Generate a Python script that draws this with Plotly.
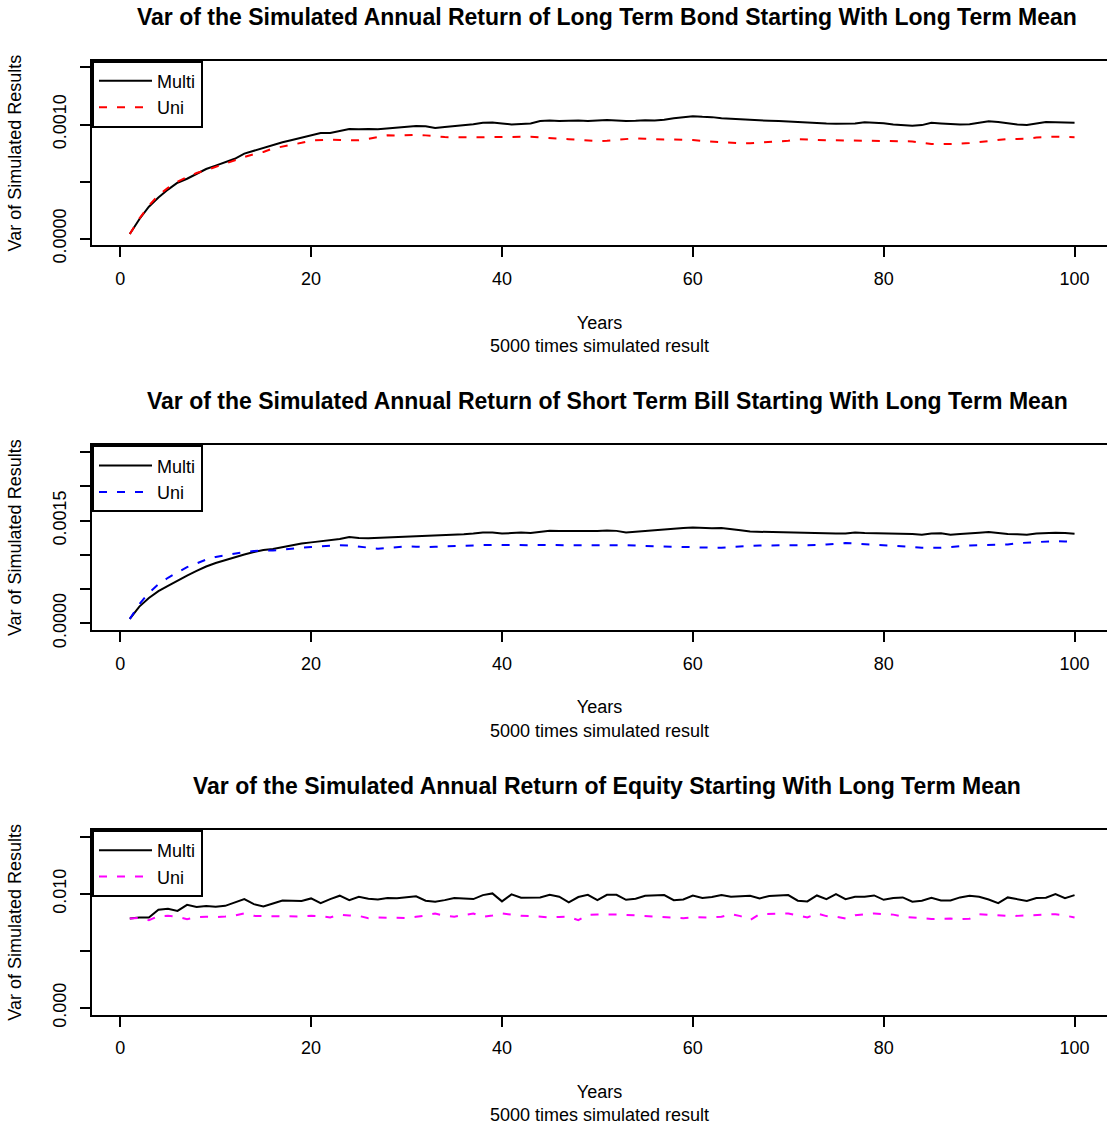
import plotly.graph_objects as go

years = list(range(1, 101))

bond_multi = [
    0.000040, 0.000170, 0.000280, 0.000360, 0.000430, 0.000490, 0.000525, 0.000570, 0.000610, 0.000640,
    0.000670, 0.000700, 0.000745, 0.000770, 0.000795, 0.000825, 0.000845, 0.000865, 0.000885, 0.000910,
    0.000925, 0.000925, 0.000945, 0.000960, 0.000958, 0.000962, 0.000958, 0.000965, 0.000975, 0.000978,
    0.000988, 0.000985, 0.000970, 0.000978, 0.000985, 0.000995, 0.001003, 0.001015, 0.001018, 0.001010,
    0.001000, 0.001005, 0.001010, 0.001030, 0.001035, 0.001030, 0.001035, 0.001035, 0.001030, 0.001033,
    0.001040, 0.001035, 0.001030, 0.001033, 0.001038, 0.001036, 0.001042, 0.001055, 0.001065, 0.001073,
    0.001068, 0.001065, 0.001055, 0.001050, 0.001045, 0.001037, 0.001035, 0.001033, 0.001030, 0.001025,
    0.001020, 0.001017, 0.001015, 0.001010, 0.001008, 0.001008, 0.001010, 0.001020, 0.001018, 0.001012,
    0.001000, 0.000992, 0.000990, 0.000995, 0.001015, 0.001010, 0.001002, 0.001000, 0.001002, 0.001015,
    0.001028, 0.001022, 0.001010, 0.001000, 0.000995, 0.001010, 0.001022, 0.001020, 0.001018, 0.001015,
]
bond_uni = [
    0.000040, 0.000175, 0.000290, 0.000380, 0.000445, 0.000500, 0.000540, 0.000575, 0.000600, 0.000630,
    0.000660, 0.000690, 0.000715, 0.000740, 0.000760, 0.000790, 0.000805, 0.000820, 0.000840, 0.000860,
    0.000865, 0.000868, 0.000865, 0.000862, 0.000862, 0.000875, 0.000890, 0.000905, 0.000903, 0.000906,
    0.000910, 0.000905, 0.000895, 0.000890, 0.000888, 0.000886, 0.000887, 0.000888, 0.000890, 0.000891,
    0.000893, 0.000895, 0.000893, 0.000887, 0.000880, 0.000876, 0.000872, 0.000866, 0.000858, 0.000854,
    0.000858, 0.000864, 0.000872, 0.000880, 0.000875, 0.000870, 0.000870, 0.000869, 0.000868, 0.000864,
    0.000856, 0.000850, 0.000842, 0.000838, 0.000836, 0.000837, 0.000842, 0.000846, 0.000850, 0.000858,
    0.000872, 0.000868, 0.000862, 0.000862, 0.000862, 0.000861, 0.000862, 0.000861, 0.000859, 0.000858,
    0.000856, 0.000854, 0.000852, 0.000840, 0.000830, 0.000828, 0.000828, 0.000832, 0.000838, 0.000848,
    0.000858, 0.000868, 0.000873, 0.000874, 0.000876, 0.000886, 0.000893, 0.000894, 0.000892, 0.000889,
]
bill_multi = [
    0.000064, 0.000244, 0.000370, 0.000470, 0.000545, 0.000625, 0.000698, 0.000765, 0.000830, 0.000880,
    0.000925, 0.000960, 0.001005, 0.001040, 0.001070, 0.001085, 0.001110, 0.001145, 0.001165, 0.001182,
    0.001195, 0.001211, 0.001230, 0.001260, 0.001245, 0.001243, 0.001248, 0.001255, 0.001262, 0.001268,
    0.001275, 0.001280, 0.001282, 0.001280, 0.001288, 0.001300, 0.001312, 0.001328, 0.001325, 0.001310,
    0.001318, 0.001328, 0.001318, 0.001335, 0.001352, 0.001350, 0.001348, 0.001345, 0.001346, 0.001350,
    0.001356, 0.001350, 0.001328, 0.001340, 0.001355, 0.001368, 0.001375, 0.001385, 0.001393, 0.001398,
    0.001390, 0.001387, 0.001392, 0.001380, 0.001360, 0.001340, 0.001336, 0.001330, 0.001328, 0.001326,
    0.001323, 0.001315, 0.001309, 0.001308, 0.001310, 0.001312, 0.001328, 0.001320, 0.001318, 0.001310,
    0.001310, 0.001314, 0.001305, 0.001294, 0.001310, 0.001315, 0.001295, 0.001305, 0.001310, 0.001322,
    0.001333, 0.001318, 0.001305, 0.001300, 0.001294, 0.001310, 0.001318, 0.001323, 0.001320, 0.001309,
]
bill_uni = [
    0.000064, 0.000280, 0.000445, 0.000570, 0.000665, 0.000745, 0.000820, 0.000875, 0.000930, 0.000970,
    0.000995, 0.001020, 0.001040, 0.001055, 0.001064, 0.001062, 0.001080, 0.001092, 0.001105, 0.001115,
    0.001125, 0.001135, 0.001140, 0.001135, 0.001120, 0.001100, 0.001090, 0.001102, 0.001115, 0.001122,
    0.001120, 0.001113, 0.001118, 0.001125, 0.001133, 0.001138, 0.001140, 0.001143, 0.001145, 0.001142,
    0.001140, 0.001139, 0.001141, 0.001143, 0.001143, 0.001142, 0.001143, 0.001144, 0.001142, 0.001140,
    0.001139, 0.001140, 0.001139, 0.001138, 0.001130, 0.001125, 0.001122, 0.001118, 0.001115, 0.001113,
    0.001108, 0.001104, 0.001104, 0.001112, 0.001125, 0.001135, 0.001138, 0.001138, 0.001137, 0.001138,
    0.001139, 0.001140, 0.001142, 0.001150, 0.001165, 0.001172, 0.001165, 0.001157, 0.001150, 0.001145,
    0.001140, 0.001130, 0.001115, 0.001102, 0.001099, 0.001103, 0.001113, 0.001128, 0.001138, 0.001142,
    0.001144, 0.001146, 0.001152, 0.001170, 0.001178, 0.001192, 0.001200, 0.001201, 0.001195, 0.001187,
]
equity_multi = [
    0.00784, 0.00793, 0.00793, 0.00860, 0.00869, 0.00851, 0.00904, 0.00884, 0.00893, 0.00887,
    0.00895, 0.00925, 0.00954, 0.00910, 0.00890, 0.00916, 0.00942, 0.00940, 0.00937, 0.00960,
    0.00919, 0.00954, 0.00984, 0.00945, 0.00975, 0.00957, 0.00951, 0.00963, 0.00962, 0.00970,
    0.00978, 0.00940, 0.00931, 0.00945, 0.00963, 0.00960, 0.00954, 0.00989, 0.01004, 0.00934,
    0.00995, 0.00966, 0.00966, 0.00969, 0.00992, 0.00975, 0.00925, 0.00972, 0.00992, 0.00945,
    0.00992, 0.00992, 0.00948, 0.00957, 0.00984, 0.00986, 0.00989, 0.00945, 0.00951, 0.00986,
    0.00963, 0.00972, 0.00989, 0.00975, 0.00978, 0.00984, 0.00960, 0.00981, 0.00986, 0.00989,
    0.00940, 0.00934, 0.00986, 0.00954, 0.00998, 0.00954, 0.00975, 0.00975, 0.00986, 0.00948,
    0.00963, 0.00969, 0.00931, 0.00940, 0.00966, 0.00942, 0.00942, 0.00969, 0.00984, 0.00975,
    0.00951, 0.00919, 0.00969, 0.00954, 0.00937, 0.00963, 0.00966, 0.00998, 0.00963, 0.00989,
]
equity_uni = [
    0.00784, 0.00790, 0.00769, 0.00805, 0.00807, 0.00800, 0.00778, 0.00795, 0.00799, 0.00796,
    0.00801, 0.00810, 0.00828, 0.00807, 0.00805, 0.00803, 0.00806, 0.00799, 0.00802, 0.00807,
    0.00804, 0.00793, 0.00818, 0.00810, 0.00807, 0.00787, 0.00792, 0.00790, 0.00787, 0.00789,
    0.00799, 0.00810, 0.00828, 0.00808, 0.00800, 0.00815, 0.00828, 0.00799, 0.00810, 0.00828,
    0.00820, 0.00807, 0.00806, 0.00800, 0.00793, 0.00798, 0.00799, 0.00769, 0.00816, 0.00820,
    0.00822, 0.00818, 0.00816, 0.00812, 0.00807, 0.00803, 0.00795, 0.00790, 0.00787, 0.00795,
    0.00793, 0.00793, 0.00800, 0.00822, 0.00805, 0.00769, 0.00822, 0.00824, 0.00826, 0.00828,
    0.00810, 0.00793, 0.00828, 0.00805, 0.00799, 0.00784, 0.00812, 0.00818, 0.00828, 0.00823,
    0.00818, 0.00800, 0.00793, 0.00785, 0.00780, 0.00782, 0.00784, 0.00778, 0.00782, 0.00822,
    0.00815, 0.00807, 0.00806, 0.00807, 0.00810, 0.00816, 0.00818, 0.00822, 0.00810, 0.00793,
]

titles = [
    "Var of the Simulated Annual Return of Long Term Bond Starting With Long Term Mean",
    "Var of the Simulated Annual Return of Short Term Bill Starting With Long Term Mean",
    "Var of the Simulated Annual Return of Equity Starting With Long Term Mean",
]
series_names = ["Multi", "Uni"]
uni_colors = ["#FF0000", "#0000FF", "#FF00FF"]
y_tickvals = [
    [0, 0.0005, 0.0010, 0.0015],
    [0, 0.0005, 0.0010, 0.0015, 0.0020, 0.0025],
    [0, 0.005, 0.010, 0.015],
]
y_ticktext = [
    ["0.0000", "", "0.0010", ""],
    ["0.0000", "", "", "0.0015", "", ""],
    ["0.000", "", "0.010", ""],
]
y_ranges = [[-0.00006, 0.00156], [-0.0001, 0.0026], [-0.0006, 0.0156]]
x_ticks = [0, 20, 40, 60, 80, 100]
x_title = "Years<br>5000 times simulated result"
y_title = "Var of Simulated Results"

multi_data = [bond_multi, bill_multi, equity_multi]
uni_data = [bond_uni, bill_uni, equity_uni]

W = 1107
REF_H = 1129      # height of the picture the positions below refer to
H = 1146          # rendered figure height (the capture is squeezed to REF_H)
FONT = "Liberation Sans, Arial, Helvetica, sans-serif"
# panel pixel boxes (top, bottom) in picture coordinates
panels_px = [(60.7, 245.7), (445.7, 630.7), (830.7, 1015.7)]
title_px = [17, 401, 787]

fig = go.Figure()
layout = dict(
    width=W, height=H,
    margin=dict(l=92, r=0, t=0, b=0),
    paper_bgcolor="white", plot_bgcolor="white",
    font=dict(family=FONT, size=18, color="black"),
    showlegend=True,
    annotations=[],
)

for i in range(3):
    ax = "" if i == 0 else str(i + 1)
    leg = "legend" if i == 0 else "legend" + str(i + 1)
    fig.add_trace(go.Scatter(
        x=years, y=multi_data[i], mode="lines", name=series_names[0],
        line=dict(color="black", width=2), xaxis="x" + ax, yaxis="y" + ax,
        legend=leg, showlegend=True,
    ))
    fig.add_trace(go.Scatter(
        x=years, y=uni_data[i], mode="lines", name=series_names[1],
        line=dict(color=uni_colors[i], width=2, dash="8px,10px"), xaxis="x" + ax, yaxis="y" + ax,
        legend=leg, showlegend=True,
    ))
    top, bot = panels_px[i]
    dom = [1 - bot / REF_H, 1 - top / REF_H]
    layout["xaxis" + ax] = dict(
        domain=[0, 1], range=[-2.96, 103.4], anchor="y" + ax,
        tickvals=x_ticks, ticks="outside", ticklen=10, tickwidth=1.5, tickcolor="black",
        ticklabelstandoff=6,
        showline=True, mirror=True, linecolor="black", linewidth=2,
        showgrid=False, zeroline=False,
        tickfont=dict(size=18, family=FONT, color="black"),
        title=dict(text=x_title, font=dict(size=18, family=FONT, color="black"), standoff=28),
    )
    layout["yaxis" + ax] = dict(
        domain=dom, range=y_ranges[i], anchor="x" + ax,
        tickvals=y_tickvals[i], ticktext=y_ticktext[i], tickangle=-90,
        ticks="outside", ticklen=10, tickwidth=1.5, tickcolor="black",
        ticklabelstandoff=7,
        showline=True, mirror=False, linecolor="black", linewidth=2,
        showgrid=False, zeroline=False,
        tickfont=dict(size=18, family=FONT, color="black"),
        title=dict(text=y_title, font=dict(size=18, family=FONT, color="black"), standoff=23),
    )
    layout[leg] = dict(
        x=0, y=dom[1], xanchor="left", yanchor="top",
        bordercolor="black", borderwidth=2, bgcolor="white",
        font=dict(size=18, family=FONT, color="black"),
        tracegroupgap=0, itemwidth=53,
    )
    layout["annotations"].append(dict(
        text="<b>" + titles[i] + "</b>", xref="paper", yref="paper",
        x=(607 - 92) / (W - 92), y=1 - title_px[i] / REF_H,
        xanchor="center", yanchor="middle", showarrow=False,
        font=dict(size=23, family=FONT, color="black"),
    ))

fig.update_layout(**layout)
fig.write_html(
    "out.html",
    config={"displayModeBar": False},
    post_script="document.body.style.margin='0px';document.body.style.overflow='hidden';",
)
